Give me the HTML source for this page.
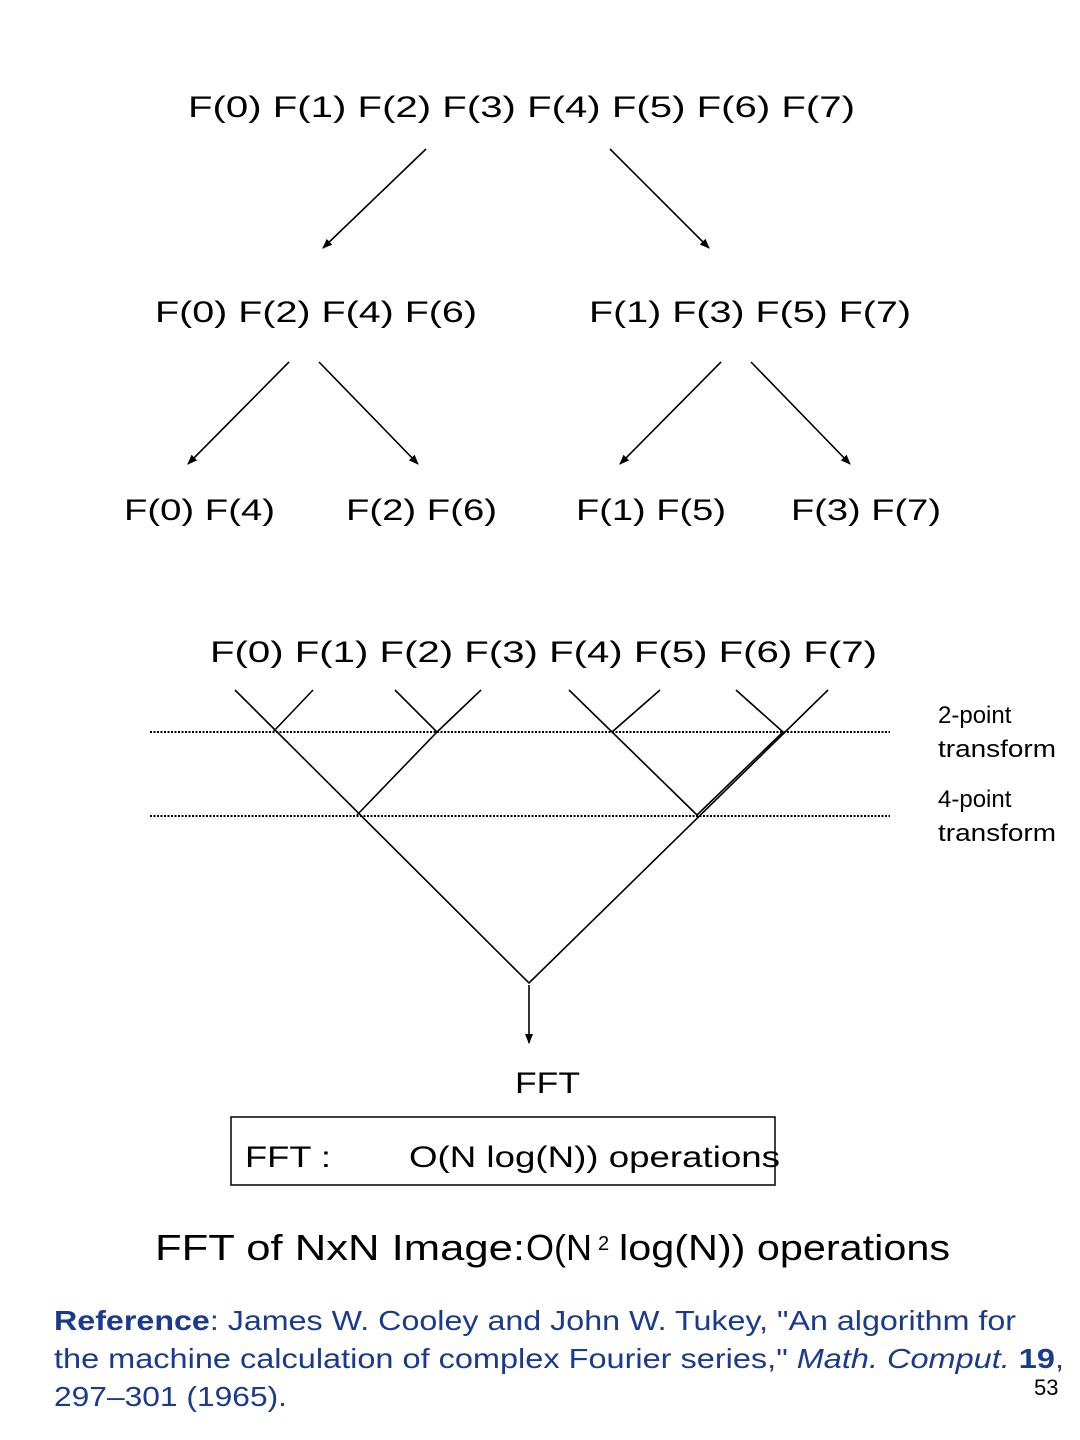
<!DOCTYPE html>
<html><head><meta charset="utf-8"><style>
html,body{margin:0;padding:0;background:#fff}
svg{display:block}
text{font-family:"Liberation Sans",Arial,sans-serif;fill:#000}
</style></head><body>
<svg width="1080" height="1440" viewBox="0 0 1080 1440" xmlns="http://www.w3.org/2000/svg">
<defs>
<marker id="ah" markerWidth="10" markerHeight="10" refX="9" refY="5" orient="auto" markerUnits="userSpaceOnUse">
<path d="M0,1 L10,5 L0,9 z" fill="#000"/>
</marker>
</defs>
<g font-size="30" xml:space="preserve">
<text x="188" y="117" textLength="667" lengthAdjust="spacingAndGlyphs">F(0)  F(1)  F(2)  F(3)  F(4)  F(5)  F(6)  F(7)</text>
<text x="155" y="322" textLength="322" lengthAdjust="spacingAndGlyphs">F(0)  F(2)  F(4)  F(6)</text>
<text x="589" y="322" textLength="322" lengthAdjust="spacingAndGlyphs">F(1)  F(3)  F(5)  F(7)</text>
<text x="124" y="520" textLength="151" lengthAdjust="spacingAndGlyphs">F(0)  F(4)</text>
<text x="346" y="520" textLength="151" lengthAdjust="spacingAndGlyphs">F(2)  F(6)</text>
<text x="576" y="520" textLength="150" lengthAdjust="spacingAndGlyphs">F(1)  F(5)</text>
<text x="791" y="520" textLength="150" lengthAdjust="spacingAndGlyphs">F(3)  F(7)</text>
<text x="210" y="662" textLength="667" lengthAdjust="spacingAndGlyphs">F(0)  F(1)  F(2)  F(3)  F(4)  F(5)  F(6)  F(7)</text>
<text x="515" y="1093" textLength="65" lengthAdjust="spacingAndGlyphs">FFT</text>
<text x="245" y="1167" textLength="86" lengthAdjust="spacingAndGlyphs">FFT :</text>
<text x="409" y="1167" textLength="371" lengthAdjust="spacingAndGlyphs">O(N log(N))  operations</text>
</g>
<g stroke="#000" stroke-width="1.6" fill="none">
<line x1="426" y1="149" x2="323" y2="248" marker-end="url(#ah)"/>
<line x1="610" y1="149" x2="709" y2="248" marker-end="url(#ah)"/>
<line x1="289" y1="362" x2="188" y2="464" marker-end="url(#ah)"/>
<line x1="319" y1="362" x2="418" y2="464" marker-end="url(#ah)"/>
<line x1="721" y1="362" x2="620" y2="464" marker-end="url(#ah)"/>
<line x1="751" y1="362" x2="850" y2="464" marker-end="url(#ah)"/>
<line x1="529" y1="985" x2="529" y2="1043" marker-end="url(#ah)"/>
<!-- butterfly -->
<polyline points="235,690 529,983 828,690"/>
<line x1="313" y1="690" x2="273" y2="732"/>
<polyline points="395,690 437,732 357,815"/>
<line x1="481" y1="690" x2="437" y2="732"/>
<polyline points="569,690 697,815"/>
<line x1="660" y1="690" x2="612" y2="732"/>
<polyline points="736,690 783,732"/>
<line x1="783" y1="732" x2="697" y2="815"/>
</g>
<g stroke="#000" stroke-width="2" stroke-dasharray="2,1.5">
<line x1="150" y1="732" x2="890" y2="732"/>
<line x1="150" y1="816" x2="890" y2="816"/>
</g>
<rect x="231" y="1117" width="544" height="68" fill="none" stroke="#000" stroke-width="1.5"/>
<g font-size="24">
<text x="938" y="723">2-point</text>
<text x="938" y="757" textLength="118" lengthAdjust="spacingAndGlyphs">transform</text>
<text x="938" y="807">4-point</text>
<text x="938" y="841" textLength="118" lengthAdjust="spacingAndGlyphs">transform</text>
</g>
<text x="155" y="1260" font-size="36" textLength="370" lengthAdjust="spacingAndGlyphs">FFT of NxN Image:</text>
<text x="526" y="1260" font-size="36">O(N</text>
<text x="598" y="1250" font-size="20">2</text>
<text x="619" y="1260" font-size="36" textLength="331" lengthAdjust="spacingAndGlyphs">log(N))  operations</text>
<g font-size="28" style="fill:#1a3a8f">
<text x="54" y="1330" textLength="962" lengthAdjust="spacingAndGlyphs" style="fill:#1a3a8f"><tspan font-weight="bold" style="fill:#1a3a8f">Reference</tspan><tspan style="fill:#1a3a8f">: James W. Cooley and John W. Tukey,  "An algorithm for</tspan></text>
<text x="54" y="1368" textLength="1010" lengthAdjust="spacingAndGlyphs" style="fill:#1a3a8f"><tspan style="fill:#1a3a8f">the machine calculation of complex Fourier series,"   </tspan><tspan font-style="italic" style="fill:#1a3a8f">Math. Comput.</tspan><tspan style="fill:#1a3a8f"> </tspan><tspan font-weight="bold" style="fill:#1a3a8f">19</tspan><tspan style="fill:#1a3a8f">,</tspan></text>
<text x="54" y="1406" textLength="233" lengthAdjust="spacingAndGlyphs" style="fill:#1a3a8f">297–301 (1965).</text>
</g>
<text x="1034" y="1395" font-size="22">53</text>
</svg>
</body></html>
